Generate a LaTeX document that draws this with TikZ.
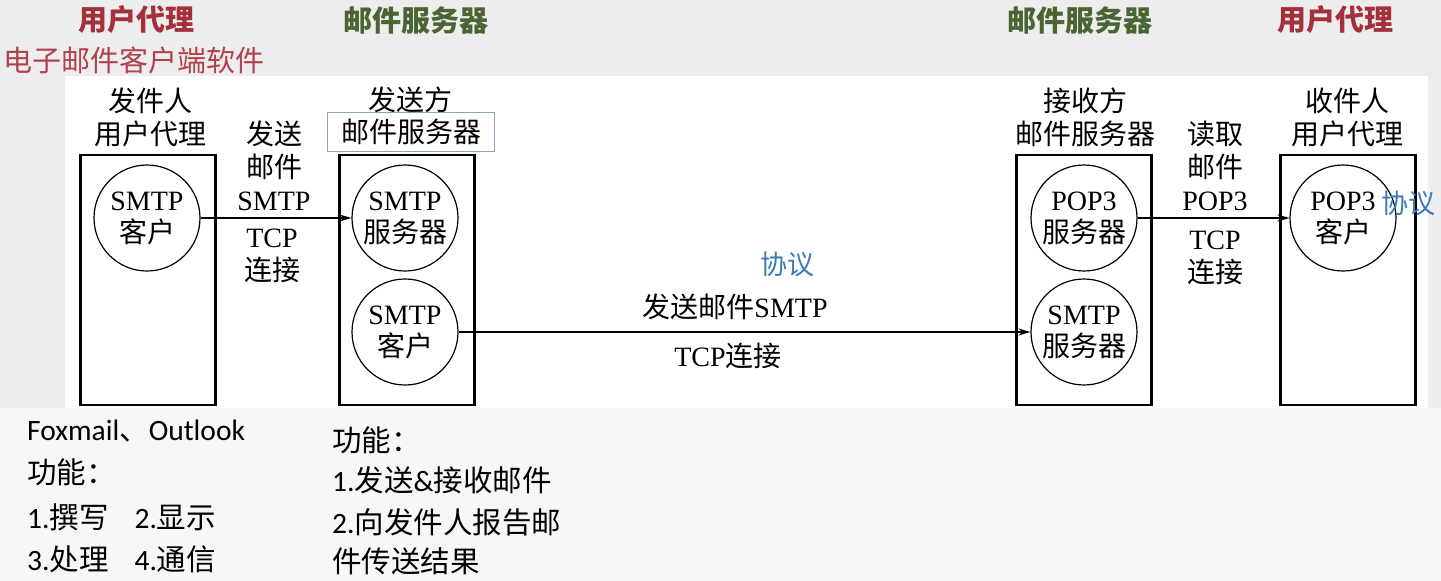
\documentclass[tikz,border=0pt]{standalone}
\usepackage{fontspec}
\setmainfont{Liberation Serif}
\newfontfamily\cjk{Noto Sans CJK SC}
\newfontfamily\lsans{Carlito}
\usetikzlibrary{arrows.meta}
\definecolor{bggray}{HTML}{EDEDED}
\definecolor{lowgray}{HTML}{F7F7F7}
\definecolor{hdrred}{HTML}{A3303A}
\definecolor{subred}{HTML}{B2414F}
\definecolor{hdrgreen}{HTML}{4A6434}
\definecolor{protoblue}{HTML}{3D7BB8}
\definecolor{frameblue}{HTML}{8FA3B8}
\tikzset{
  ubox/.style={draw, line width=2.4pt, minimum width=135pt, minimum height=250pt, inner sep=0pt},
  proc/.style={draw, circle, line width=1.2pt, minimum size=106pt, inner sep=0pt, align=center, font=\fontsize{28}{32}\selectfont},
  lbl/.style={align=center, inner sep=0pt, font=\fontsize{28}{33}\selectfont},
  arr/.style={-{Stealth[length=12pt,width=7pt]}, line width=1.4pt},
  hdr/.style={inner sep=0pt, font=\cjk\bfseries\fontsize{29}{35}\selectfont},
  note/.style={anchor=west, inner sep=0pt, font=\lsans\fontsize{29.5}{34}\selectfont},
  proto/.style={inner sep=0pt, text=protoblue, font=\cjk\fontsize{27}{33}\selectfont},
}
\begin{document}
\begin{tikzpicture}[x=1pt,y=-1pt]
  % background
  \fill[bggray] (0,0) rectangle (1441,581);
  \fill[lowgray] (0,408) rectangle (1441,581);
  \fill[white] (65,76) rectangle (1428,408);
  \useasboundingbox (0,0) rectangle (1441,581);

  % headers
  \node[hdr, text=hdrred] (h1) at (136,20) {用户代理};
  \node[hdr, text=hdrgreen] (h2) at (416,20) {邮件服务器};
  \node[hdr, text=hdrgreen] (h3) at (1080,20) {邮件服务器};
  \node[hdr, text=hdrred] (h4) at (1335,20) {用户代理};
  \node[inner sep=0pt, anchor=west, text=subred, font=\cjk\fontsize{29}{35}\selectfont] (h5) at (3,60) {电子邮件客户端软件};

  % boxes
  \node[ubox] (b1) at (148,280) {};
  \node[ubox] (b2) at (407,280) {};
  \node[ubox] (b3) at (1084,280) {};
  \node[ubox] (b4) at (1348,280) {};

  % circles
  \node[proc] (c1) at (147,218) {SMTP\\{\cjk 客户}};
  \node[proc] (c2) at (405,218) {SMTP\\{\cjk 服务器}};
  \node[proc] (c3) at (405,332) {SMTP\\{\cjk 客户}};
  \node[proc] (c4) at (1084,218) {POP3\\{\cjk 服务器}};
  \node[proc] (c5) at (1084,332) {SMTP\\{\cjk 服务器}};
  \node[proc] (c6) at (1343,218) {POP3\\{\cjk 客户}};

  % box titles
  \node[lbl] (t1) at (150,117) {{\cjk 发件人}\\{\cjk 用户代理}};
  \node[lbl] (t2a) at (410,100) {\cjk 发送方};
  \node[lbl, draw=frameblue, line width=0.8pt, minimum width=167pt, minimum height=39pt] (t2b) at (411,132) {\cjk 邮件服务器};
  \node[lbl] (t3) at (1085,117) {{\cjk 接收方}\\{\cjk 邮件服务器}};
  \node[lbl] (t4) at (1347,117) {{\cjk 收件人}\\{\cjk 用户代理}};

  % connectors
  \draw[arr] (c1) -- (c2);
  \draw[arr] (c3) -- (c5);
  \draw[arr] (c4) -- (c6);

  % connector labels
  \node[lbl] (l1a) at (274,166) {{\cjk 发送}\\{\cjk 邮件}\\SMTP};
  \node[lbl] (l1b) at (272,256) {TCP\\{\cjk 连接}};
  \node[lbl] (l2a) at (735,307) {{\cjk 发送邮件}SMTP};
  \node[lbl] (l2b) at (728,356) {TCP{\cjk 连接}};
  \node[lbl] (l3a) at (1215,166) {{\cjk 读取}\\{\cjk 邮件}\\POP3};
  \node[lbl] (l3b) at (1215,258) {TCP\\{\cjk 连接}};

  % protocol annotations
  \node[proto] (p1) at (787,264) {协议};
  \node[proto] (p2) at (1408,203) {协议};

  % notes
  \node[note] (n1) at (27,431) {Foxmail{\cjk 、}Outlook};
  \node[note] (n2) at (27,472) {\cjk 功能：};
  \node[note] (n3) at (27,517) {1.{\cjk 撰写}\hspace{26pt}2.{\cjk 显示}};
  \node[note] (n4) at (27,559) {3.{\cjk 处理}\hspace{26pt}4.{\cjk 通信}};
  \node[note] (n5) at (332,440) {\cjk 功能：};
  \node[note] (n6) at (332,480) {1.{\cjk 发送}\&{\cjk 接收邮件}};
  \node[note] (n7) at (332,522) {2.{\cjk 向发件人报告邮}};
  \node[note] (n8) at (332,561) {\cjk 件传送结果};
\end{tikzpicture}
\end{document}
